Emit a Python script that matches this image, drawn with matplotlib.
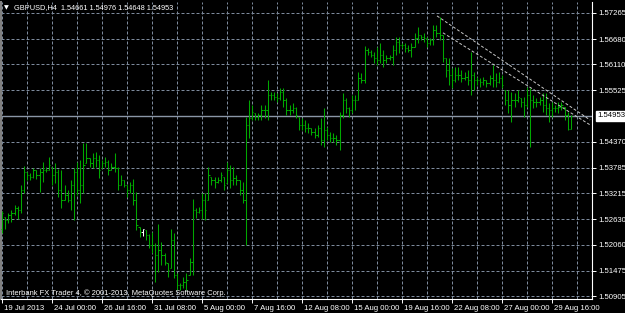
import matplotlib
matplotlib.use("Agg")
import matplotlib.pyplot as plt
import matplotlib.transforms as mtransforms

# GBPUSD H4 bars (index 0 = 19 Jul 2013 08:00)
highs = [1.5281, 1.5268, 1.5277, 1.5284, 1.5295, 1.5293, 1.5340, 1.5383, 1.5369, 1.5367,
         1.5378, 1.5374, 1.5378, 1.5392, 1.5380, 1.5403, 1.5380, 1.5389, 1.5376, 1.5374,
         1.5340, 1.5329, 1.5351, 1.5378, 1.5392, 1.5396, 1.5434, 1.5434, 1.5400, 1.5412,
         1.5414, 1.5407, 1.5396, 1.5403, 1.5396, 1.5389, 1.5412, 1.5380, 1.5362, 1.5351,
         1.5340, 1.5347, 1.5353, 1.5324, 1.5245, 1.5241, 1.5239, 1.5229, 1.5234, 1.5209,
         1.5252, 1.5212, 1.5187, 1.5164, 1.5241, 1.5232, 1.5142, 1.5119, 1.5133, 1.5142,
         1.5176, 1.5308, 1.5288, 1.5290, 1.5322, 1.5322, 1.5380, 1.5358, 1.5358, 1.5358,
         1.5369, 1.5358, 1.5392, 1.5385, 1.5380, 1.5362, 1.5351, 1.5347, 1.5493, 1.5531,
         1.5520, 1.5502, 1.5502, 1.5520, 1.5520, 1.5576, 1.5549, 1.5549, 1.5547, 1.5558,
         1.5558, 1.5536, 1.5520, 1.5524, 1.5515, 1.5493, 1.5491, 1.5486, 1.5479, 1.5468,
         1.5468, 1.5475, 1.5491, 1.5513, 1.5470, 1.5459, 1.5457, 1.5452, 1.5504, 1.5547,
         1.5536, 1.5515, 1.5542, 1.5542, 1.5594, 1.5592, 1.5653, 1.5648, 1.5644, 1.5639,
         1.5650, 1.5659, 1.5644, 1.5632, 1.5632, 1.5655, 1.5673, 1.5673, 1.5659, 1.5659,
         1.5655, 1.5659, 1.5682, 1.5695, 1.5677, 1.5682, 1.5673, 1.5670, 1.5700, 1.5700,
         1.5718, 1.5677, 1.5625, 1.5625, 1.5603, 1.5605, 1.5605, 1.5599, 1.5594, 1.5599,
         1.5639, 1.5594, 1.5583, 1.5581, 1.5583, 1.5576, 1.5587, 1.5610, 1.5592, 1.5594,
         1.5587, 1.5554, 1.5554, 1.5549, 1.5547, 1.5554, 1.5536, 1.5538, 1.5560, 1.5558,
         1.5542, 1.5536, 1.5538, 1.5547, 1.5547, 1.5524, 1.5527, 1.5520, 1.5527, 1.5527,
         1.5515, 1.5504, 1.54976]

lows = [1.5232, 1.5241, 1.5254, 1.5257, 1.5272, 1.5263, 1.5277, 1.5322, 1.5351, 1.5351,
        1.5355, 1.5353, 1.5324, 1.5347, 1.5369, 1.5374, 1.5340, 1.5344, 1.5313, 1.5288,
        1.5306, 1.5302, 1.5284, 1.5261, 1.5317, 1.5299, 1.5322, 1.5389, 1.5380, 1.5378,
        1.5380, 1.5355, 1.5378, 1.5380, 1.5362, 1.5374, 1.5369, 1.5329, 1.5340, 1.5335,
        1.5313, 1.5322, 1.5295, 1.5239, 1.5223, 1.5225, 1.5216, 1.5198, 1.5187, 1.5122,
        1.5144, 1.5160, 1.5160, 1.5133, 1.5153, 1.5131, 1.5104, 1.5104, 1.5108, 1.5104,
        1.5137, 1.5137, 1.5266, 1.5277, 1.5263, 1.5261, 1.5306, 1.5340, 1.5333, 1.5344,
        1.5347, 1.5329, 1.5344, 1.5333, 1.5340, 1.5340, 1.5317, 1.5299, 1.5205, 1.5445,
        1.5486, 1.5486, 1.5486, 1.5486, 1.5491, 1.5486, 1.5531, 1.5531, 1.5527, 1.5531,
        1.5515, 1.5497, 1.5497, 1.5502, 1.5491, 1.5464, 1.5464, 1.5459, 1.5457, 1.5452,
        1.5445, 1.5448, 1.5430, 1.5425, 1.5441, 1.5437, 1.5437, 1.5430, 1.5419, 1.5491,
        1.5502, 1.5493, 1.5502, 1.5509, 1.5531, 1.5569, 1.5569, 1.5632, 1.5628, 1.5614,
        1.5610, 1.5614, 1.5605, 1.5614, 1.5621, 1.5610, 1.5632, 1.5637, 1.5648, 1.5639,
        1.5639, 1.5628, 1.5650, 1.5659, 1.5666, 1.5662, 1.5650, 1.5655, 1.5655, 1.5673,
        1.5666, 1.5617, 1.5583, 1.5565, 1.5558, 1.5572, 1.5576, 1.5572, 1.5576, 1.5565,
        1.5542, 1.5554, 1.5565, 1.5560, 1.5565, 1.5560, 1.5565, 1.5560, 1.5560, 1.5569,
        1.5558, 1.5520, 1.5502, 1.5482, 1.5515, 1.5527, 1.5515, 1.5493, 1.5515, 1.5425,
        1.5513, 1.5515, 1.5520, 1.5504, 1.5497, 1.5482, 1.5493, 1.5504, 1.5502, 1.5509,
        1.5486, 1.5464, 1.54648]

closes = [1.5277, 1.5261, 1.5272, 1.5277, 1.5288, 1.5284, 1.5329, 1.5369, 1.5362, 1.5358,
          1.5374, 1.5362, 1.5369, 1.5374, 1.5374, 1.5385, 1.5362, 1.5369, 1.5329, 1.5306,
          1.5317, 1.5306, 1.5340, 1.5369, 1.5329, 1.5340, 1.5385, 1.5400, 1.5389, 1.5400,
          1.5396, 1.5374, 1.5389, 1.5392, 1.5374, 1.5380, 1.5378, 1.5340, 1.5351, 1.5340,
          1.5329, 1.5340, 1.5306, 1.5250, 1.5234, 1.5241, 1.5227, 1.5205, 1.5205, 1.5182,
          1.5194, 1.5182, 1.5167, 1.5149, 1.5216, 1.5137, 1.5115, 1.5115, 1.5122, 1.5126,
          1.5167, 1.5284, 1.5279, 1.5284, 1.5306, 1.5284, 1.5362, 1.5351, 1.5347, 1.5351,
          1.5362, 1.5340, 1.5374, 1.5351, 1.5355, 1.5351, 1.5329, 1.5306, 1.5475, 1.5491,
          1.5504, 1.5493, 1.5497, 1.5509, 1.5509, 1.5542, 1.5542, 1.5538, 1.5536, 1.5549,
          1.5531, 1.5509, 1.5509, 1.5513, 1.5497, 1.5475, 1.5475, 1.5468, 1.5468, 1.5459,
          1.5452, 1.5468, 1.5441, 1.5464, 1.5452, 1.5445, 1.5445, 1.5441, 1.5497, 1.5531,
          1.5513, 1.5509, 1.5531, 1.5531, 1.5581, 1.5576, 1.5644, 1.5639, 1.5632, 1.5625,
          1.5621, 1.5632, 1.5621, 1.5625, 1.5628, 1.5644, 1.5662, 1.5655, 1.5655, 1.5648,
          1.5644, 1.5650, 1.5670, 1.5677, 1.5673, 1.5670, 1.5659, 1.5666, 1.5688, 1.5682,
          1.5677, 1.5625, 1.5599, 1.5587, 1.5576, 1.5587, 1.5587, 1.5581, 1.5583, 1.5576,
          1.5587, 1.5576, 1.5576, 1.5572, 1.5576, 1.5569, 1.5581, 1.5576, 1.5572, 1.5581,
          1.5565, 1.5531, 1.5520, 1.5531, 1.5531, 1.5538, 1.5527, 1.5520, 1.5542, 1.5531,
          1.5527, 1.5527, 1.5531, 1.5520, 1.5513, 1.5509, 1.5513, 1.5513, 1.5515, 1.5520,
          1.5497, 1.5466, 1.54953]

first_open = 1.5241
marked_bar = 45  # the white bar

bid = 1.54953
title = "GBPUSD,H4  1.54661 1.54976 1.54648 1.54953"
footer = "Interbank FX Trader 4, \u00a9 2001-2013, MetaQuotes Software Corp."

price_ticks = [1.57265, 1.56680, 1.56110, 1.55525, 1.54370, 1.53785,
               1.53215, 1.52630, 1.52060, 1.51475, 1.50905]
date_ticks = [0, 16, 32, 48, 64, 80, 96, 112, 128, 144, 160, 176]
date_labels = ["19 Jul 2013", "24 Jul 00:00", "26 Jul 16:00", "31 Jul 08:00",
               "5 Aug 00:00", "7 Aug 16:00", "12 Aug 08:00", "15 Aug 00:00",
               "19 Aug 16:00", "22 Aug 08:00", "27 Aug 00:00", "29 Aug 16:00"]

# two hand drawn trend lines (bar index, price)
trend_a_bars = [139.2, 188.2]
trend_a_prices = [1.5720, 1.5486]
trend_b_bars = [141.1, 188.2]
trend_b_prices = [1.5682, 1.5475]

plt.rcParams['font.family'] = ['Liberation Sans', 'DejaVu Sans']

fig = plt.figure(figsize=(6.25, 3.13), dpi=100, facecolor='black')
ax = fig.add_axes([1 / 625, 14 / 313, 591 / 625, 297 / 313])
ax.set_facecolor('black')
ax.set_xlim(-0.32, 188.8)
ax.set_ylim(1.50838, 1.57512)

gridc = '#7d8a9c'
for p in price_ticks:
    ax.axhline(p, color=gridc, lw=0.72, ls=(0, (3, 2)), zorder=1)
for i in range(0, 189, 8):
    ax.axvline(i, color=gridc, lw=0.72, ls=(0, (3, 2)), zorder=1)

# bid line
ax.axhline(bid, color='#8a96a6', lw=1.0, zorder=2)

# OHLC bars, open = previous close kept inside the bar range
n = len(closes)
xs = list(range(n))
opens = [first_open] + closes[:-1]
opens = [min(max(o, l), h) for o, l, h in zip(opens, lows, highs)]
colors = ['white' if i == marked_bar else '#00a800' for i in xs]
ax.vlines(xs, lows, highs, colors=colors, lw=0.75, zorder=3)
ax.hlines(opens, [x - 0.4 for x in xs], xs, colors=colors, lw=0.75, zorder=3)
ax.hlines(closes, xs, [x + 0.4 for x in xs], colors=colors, lw=0.75, zorder=3)

# trend lines
ax.plot(trend_a_bars, trend_a_prices, color='#c8c8c8', lw=0.7, ls=(0, (3, 2)), zorder=4)
ax.plot(trend_b_bars, trend_b_prices, color='#c8c8c8', lw=0.7, ls=(0, (3, 2)), zorder=4)

# axes look
ax.spines['top'].set_visible(False)
ax.spines['left'].set_color('#808080')
ax.spines['left'].set_linewidth(1.5)
ax.spines['right'].set_color('white')
ax.spines['bottom'].set_color('white')
ax.spines['right'].set_linewidth(0.8)
ax.spines['bottom'].set_linewidth(0.8)

ax.yaxis.tick_right()
ax.set_yticks(price_ticks)
ax.set_yticklabels(["%.5f" % p for p in price_ticks])
ax.tick_params(axis='y', colors='white', length=3, width=0.7, pad=1.5, labelsize=5.6)

ax.set_xticks(date_ticks)
ax.set_xticklabels(date_labels)
ax.tick_params(axis='x', colors='white', length=3, width=0.7, pad=1.5, labelsize=5.6)
offset = mtransforms.ScaledTranslation(2 / 100, 0, fig.dpi_scale_trans)
for lab in ax.get_xticklabels():
    lab.set_horizontalalignment('left')
    lab.set_transform(lab.get_transform() + offset)

# bid price label on the axis
tr = mtransforms.blended_transform_factory(ax.transAxes, ax.transData)
ax.text(1.0 + 5 / 591, bid, "%.5f" % bid, transform=tr, color='black', fontsize=5.6,
        va='center', ha='left',
        bbox=dict(boxstyle='square,pad=0.15', fc='white', ec='white'))

# header and footer
fig.text(4 / 625, 1 - 8 / 313, "\u25bc", color='white', fontsize=4.5, va='center', ha='left',
         family='DejaVu Sans')
fig.text(14 / 625, 1 - 8 / 313, title, color='white', fontsize=5.3, va='center', ha='left')
fig.text(6 / 625, 1 - 293 / 313, footer, color='white', fontsize=5.4, va='center', ha='left')

fig.savefig('out.png', dpi=100, facecolor='black')
